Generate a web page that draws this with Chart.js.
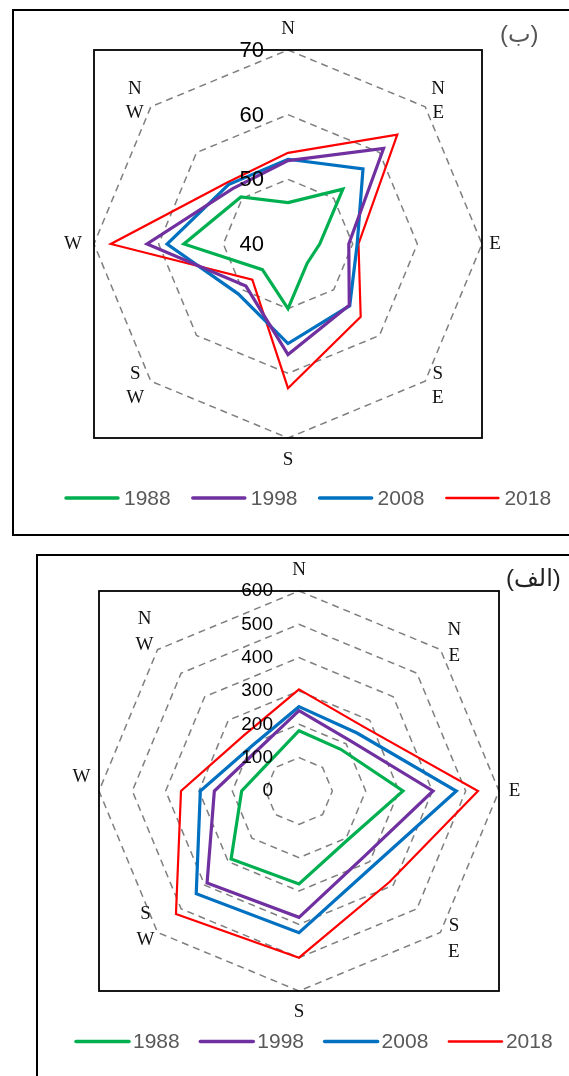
<!DOCTYPE html>
<html><head><meta charset="utf-8">
<script src="https://cdn.jsdelivr.net/npm/chart.js@4/dist/chart.umd.min.js"></script>
<style>
html,body{margin:0;padding:0;background:#fff;width:569px;height:1076px;overflow:hidden;position:relative;}
.frame{position:absolute;border:2px solid #000;box-sizing:border-box;}
canvas{position:absolute;left:0;}
.tag{position:absolute;font-family:"Liberation Sans","DejaVu Sans",sans-serif;font-size:24px;line-height:1;white-space:nowrap;}
</style></head><body>
<div class="frame" style="left:12px;top:9px;width:575px;height:527px;"></div>
<div class="frame" style="left:36px;top:554px;width:550px;height:540px;"></div>
<canvas id="cTop" width="569" height="540" style="top:0"></canvas>
<canvas id="cBot" width="569" height="531" style="top:545px"></canvas>
<div class="tag" style="left:500px;top:22px;color:#555;">(ب)</div>
<div class="tag" style="left:506px;top:566px;color:#222;">(الف)</div>
<script>
// ---- shared categories ----
const directions = [['N'], ['N','E'], ['E'], ['S','E'], ['S'], ['S','W'], ['W'], ['N','W']];
const years = ['1988', '1998', '2008', '2018'];
const yearColors = ['#00B050', '#7030A0', '#0070C0', '#FF0000'];

// ---- chart (ب) : upper ----
const b1988 = [46.4, 52.0, 44.9, 44.2, 50.0, 45.6, 56.1, 50.3];
const b1998 = [52.9, 60.9, 49.4, 53.4, 57.1, 49.2, 61.8, 52.1];
const b2008 = [53.1, 56.4, 50.7, 53.5, 55.4, 50.9, 58.7, 53.0];
const b2018 = [54.1, 63.9, 50.9, 55.9, 62.3, 47.8, 67.4, 53.4];
const bTicks = [40, 50, 60, 70];

// ---- chart (الف) : lower ----
const a1988 = [181, 177, 312, 207, 279, 288, 172, 125];
const a1998 = [241, 215, 402, 277, 379, 390, 254, 175];
const a2008 = [253, 246, 472, 316, 425, 436, 296, 195];
const a2018 = [305, 273, 537, 385, 500, 522, 354, 235];
const aTicks = [0, 100, 200, 300, 400, 500, 600];

function decorPlugin(cfg) {
  return {
    id: 'decor',
    afterDraw(chart) {
      const s = chart.scales.r, ctx = chart.ctx;
      const cx = s.xCenter, cy = s.yCenter, r = s.drawingArea;
      ctx.save();
      // plot-area box
      ctx.strokeStyle = '#000'; ctx.lineWidth = 1.8;
      ctx.strokeRect(cx - r, cy - r, 2 * r, 2 * r);
      // tick labels
      ctx.font = cfg.tickFont; ctx.fillStyle = '#000';
      ctx.textAlign = 'right'; ctx.textBaseline = 'middle';
      s.ticks.forEach(t => {
        const d = s.getDistanceFromCenterForValue(t.value);
        ctx.fillText(String(t.value), cx - cfg.tickDx, cy - d + cfg.tickDy);
      });
      // direction labels
      ctx.font = cfg.labelFont; ctx.fillStyle = '#111'; ctx.textAlign = 'center';
      chart.data.labels.forEach((lab, i) => {
        const p = s.getPointPosition(i, r);
        const off = cfg.labelOffsets[i];
        const y0 = p.y + off[1] - (lab.length - 1) * cfg.lineH / 2;
        lab.forEach((ln, k) => ctx.fillText(ln, p.x + off[0], y0 + k * cfg.lineH));
      });
      // legend
      ctx.font = cfg.legFont; ctx.textAlign = 'left'; ctx.lineCap = 'round';
      chart.data.datasets.forEach((ds, i) => {
        const x0 = cfg.legX + i * cfg.legStep, y = cfg.legY;
        ctx.strokeStyle = ds.borderColor; ctx.lineWidth = cfg.legLW[i];
        ctx.beginPath(); ctx.moveTo(x0, y); ctx.lineTo(x0 + cfg.legLen, y); ctx.stroke();
        ctx.fillStyle = '#595959';
        ctx.fillText(ds.label, x0 + cfg.legLen + cfg.legGap, y + 1);
      });
      ctx.restore();
    }
  };
}

function makeRadar(id, series, ticks, padding, cfg) {
  const widths = [3.2, 3.2, 3.2, 2.2];
  return new Chart(document.getElementById(id), {
    type: 'radar',
    data: {
      labels: directions,
      datasets: series.map((vals, i) => ({
        label: years[i], data: vals,
        borderColor: yearColors[i], backgroundColor: 'transparent',
        borderWidth: widths[i], pointRadius: 0, fill: false,
        borderJoinStyle: 'miter', tension: 0
      }))
    },
    options: {
      responsive: false, animation: false, devicePixelRatio: 1,
      layout: { padding: padding },
      plugins: { legend: { display: false }, tooltip: { enabled: false } },
      scales: {
        r: {
          min: ticks[0], max: ticks[ticks.length - 1],
          ticks: { display: false, stepSize: ticks[1] - ticks[0] },
          pointLabels: { display: false },
          angleLines: { display: false },
          grid: { color: '#7f7f7f', lineWidth: 1.5 },
          border: { dash: [7, 5] }
        }
      }
    },
    plugins: [decorPlugin(cfg)]
  });
}

makeRadar('cTop', [b1988, b1998, b2008, b2018], bTicks,
  { left: 94, top: 50, right: 87, bottom: 102 },
  {
    tickFont: '22px "Liberation Sans", Arial, sans-serif', tickDx: 24, tickDy: 1,
    labelFont: '19px "Liberation Serif", "Times New Roman", serif', lineH: 24,
    labelOffsets: [[0,-21],[13,-6],[13,0],[12.5,4.5],[0,22],[-15.5,4.5],[-21,0],[-16,-6]],
    legFont: '21px "Liberation Sans", Arial, sans-serif',
    legX: 66, legStep: 126.8, legLen: 52, legGap: 6, legY: 498, legLW: [3.5, 3.5, 3.5, 2.5]
  });

makeRadar('cBot', [a1988, a1998, a2008, a2018], aTicks,
  { left: 99, top: 46, right: 70, bottom: 85 },
  {
    tickFont: '19px "Liberation Sans", Arial, sans-serif', tickDx: 26, tickDy: 0,
    labelFont: '19px "Liberation Serif", "Times New Roman", serif', lineH: 26,
    labelOffsets: [[0,-21],[14,-6.5],[15.5,0],[13.5,6.5],[0,21],[-12,-5],[-17.5,-14],[-13,-18]],
    legFont: '21px "Liberation Sans", Arial, sans-serif',
    legX: 76, legStep: 124.3, legLen: 53, legGap: 4, legY: 496.5, legLW: [3.5, 3.5, 3.5, 2.5]
  });
</script>
</body></html>
